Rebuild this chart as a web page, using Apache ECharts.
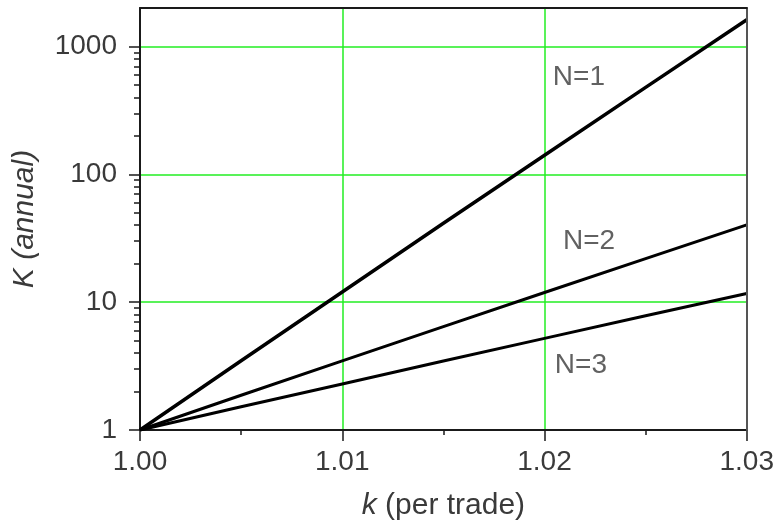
<!DOCTYPE html>
<html>
<head>
<meta charset="utf-8">
<script src="https://cdn.jsdelivr.net/npm/echarts@6/dist/echarts.min.js"></script>
<style>html,body{margin:0;padding:0;background:#fff}#c{width:777px;height:526px}</style>
</head>
<body>
<div id="c"></div>
<script>
// k (per trade) sample points
const kValues = [1.000, 1.005, 1.010, 1.015, 1.020, 1.025, 1.030];
// K (annual)
const seriesN1 = [1.00, 3.48, 12.0, 41.4, 141, 479, 1620];
const seriesN2 = [1.00, 1.87, 3.47, 6.43, 11.9, 21.9, 40.2];
const seriesN3 = [1.00, 1.52, 2.29, 3.46, 5.21, 7.83, 11.7];
// curve labels
const labelTexts = ['N=1', 'N=2', 'N=3'];
const labelK = [1.0217, 1.0222, 1.0218];
const labelV = [570, 30, 3.2];
// tick values
const yMajorTicks = [1, 10, 100, 1000];
const yMinorTicks = [2,3,4,5,6,7,8,9,20,30,40,50,60,70,80,90,200,300,400,500,600,700,800,900];
const xTickLabels = ['1.00', '1.01', '1.02', '1.03'];

const FONT = 'Liberation Sans';
const TXT = '#3a3a3a';
const GREEN = '#22ee22';

const pairs = (ys) => kValues.map((k, i) => [k, ys[i]]);

const chart = echarts.init(document.getElementById('c'), null, {renderer: 'canvas'});
chart.setOption({
  animation: false,
  backgroundColor: '#fff',
  grid: {left: 140, right: 30, top: 8, bottom: 96, show: false},
  xAxis: [{
    type: 'value', min: 1.00, max: 1.03, interval: 0.01, position: 'bottom',
    name: '{i|k} (per trade)', nameLocation: 'middle', nameGap: 61,
    nameTextStyle: {fontFamily: FONT, fontSize: 30, color: TXT,
      rich: {i: {fontFamily: FONT, fontSize: 30, color: TXT, fontStyle: 'italic'}}},
    axisLine: {show: true, lineStyle: {color: '#1a1a1a', width: 2}},
    axisTick: {show: true, length: 11, lineStyle: {color: '#1a1a1a', width: 1.5}},
    minorTick: {show: true, splitNumber: 2, length: 5, lineStyle: {color: '#1a1a1a', width: 1.5}},
    axisLabel: {fontFamily: FONT, fontSize: 28, color: TXT, margin: 18,
      formatter: (v) => { const s = v.toFixed(2); return xTickLabels.indexOf(s) >= 0 ? s : ''; }},
    splitLine: {show: true, lineStyle: {color: GREEN, width: 1.5}}
  }, {
    type: 'value', min: 1.00, max: 1.03, position: 'top', z: 10,
    axisLine: {show: true, lineStyle: {color: '#1a1a1a', width: 2}},
    axisTick: {show: false}, axisLabel: {show: false}, splitLine: {show: false}
  }],
  yAxis: [{
    type: 'log', logBase: 10, min: 1, max: 2000, position: 'left',
    name: 'K (annual)', nameLocation: 'middle', nameGap: 100, nameRotate: 90,
    nameTextStyle: {fontFamily: FONT, fontSize: 30, color: TXT, fontStyle: 'italic'},
    axisLine: {show: true, lineStyle: {color: '#1a1a1a', width: 2}},
    axisTick: {show: true, length: 11, customValues: yMajorTicks, lineStyle: {color: '#1a1a1a', width: 1.5}},
    axisLabel: {fontFamily: FONT, fontSize: 28, color: TXT, margin: 23, customValues: yMajorTicks,
      formatter: (v) => String(Math.round(v))},
    splitLine: {show: true, lineStyle: {color: GREEN, width: 1.5}}
  }, {
    type: 'log', logBase: 10, min: 1, max: 2000, position: 'left',
    axisLine: {show: false},
    axisTick: {show: true, length: 6, customValues: yMinorTicks, lineStyle: {color: '#1a1a1a', width: 1.5}},
    axisLabel: {show: false}, splitLine: {show: false}
  }, {
    type: 'log', logBase: 10, min: 1, max: 2000, position: 'right', z: 10,
    axisLine: {show: true, lineStyle: {color: '#555', width: 2}},
    axisTick: {show: false}, axisLabel: {show: false}, splitLine: {show: false}
  }],
  series: [
    {name: 'N=1', type: 'line', data: pairs(seriesN1), symbol: 'none', z: 5,
     lineStyle: {color: '#000', width: 3.5}},
    {name: 'N=2', type: 'line', data: pairs(seriesN2), symbol: 'none', z: 5,
     lineStyle: {color: '#000', width: 3}},
    {name: 'N=3', type: 'line', data: pairs(seriesN3), symbol: 'none', z: 5,
     lineStyle: {color: '#000', width: 3}},
    {type: 'scatter', symbolSize: 0, silent: true, z: 6,
     data: labelTexts.map((t, i) => ({value: [labelK[i], labelV[i]], name: t})),
     label: {show: true, position: 'inside', formatter: (p) => p.name,
       fontFamily: FONT, fontSize: 28, color: TXT}}
  ]
});
</script>
</body>
</html>
